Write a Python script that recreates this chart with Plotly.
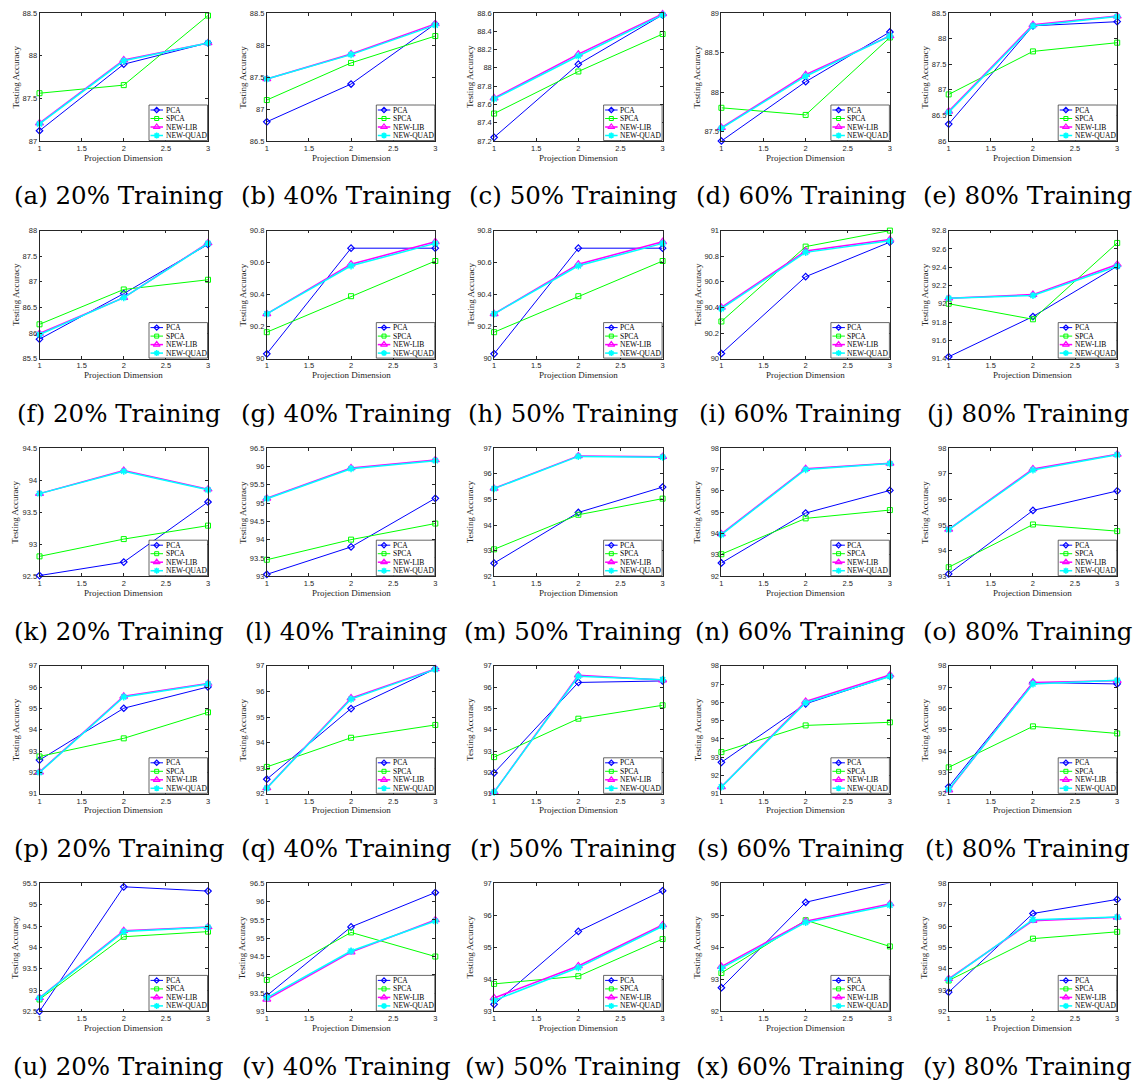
import plotly.graph_objects as go

# Page size in pixels
W, H = 1141, 1082

# ---------------------------------------------------------------- data
PANEL_TAGS = list("abcdefghijklmnopqrstuvwxy")
TRAIN_PCT = [20, 40, 50, 60, 80] * 5
DIMS = [1, 2, 3]
X_TICKS = [1, 1.5, 2, 2.5, 3]
SERIES_NAMES = ["PCA", "SPCA", "NEW-LIB", "NEW-QUAD"]

PCA = [
    [87.12, 87.90, 88.15], [86.80, 87.39, 88.33], [87.24, 88.04, 88.58],
    [87.38, 88.13, 88.76], [86.33, 88.25, 88.33],
    [85.88, 86.77, 87.73], [90.03, 90.69, 90.69], [90.03, 90.69, 90.69],
    [90.04, 90.64, 90.91], [91.42, 91.86, 92.41],
    [92.51, 92.72, 93.66], [93.05, 93.80, 95.13], [92.51, 94.49, 95.48],
    [92.62, 94.96, 96.02], [93.09, 95.57, 96.33],
    [92.58, 95.01, 96.01], [92.57, 95.33, 96.88], [91.98, 96.22, 96.29],
    [92.72, 95.92, 97.43], [92.33, 97.22, 97.15],
    [92.50, 95.42, 95.32], [93.43, 95.31, 96.25], [93.22, 95.50, 96.77],
    [92.74, 95.41, 96.02], [92.90, 96.59, 97.25],
]
SPCA = [
    [87.56, 87.655, 88.47], [87.14, 87.72, 88.14], [87.50, 87.96, 88.37],
    [87.80, 87.71, 88.69], [86.91, 87.75, 87.92],
    [86.17, 86.85, 87.04], [90.165, 90.39, 90.61], [90.165, 90.39, 90.61],
    [90.29, 90.875, 91.0], [92.0, 91.83, 92.665],
    [92.81, 93.08, 93.29], [93.45, 94.0, 94.44], [93.05, 94.40, 95.03],
    [93.03, 94.71, 95.10], [93.35, 95.02, 94.76],
    [92.75, 93.60, 94.82], [93.05, 94.19, 94.69], [92.72, 94.52, 95.15],
    [93.28, 94.74, 94.91], [93.24, 95.16, 94.83],
    [92.78, 94.25, 94.37], [93.86, 95.16, 94.50], [93.86, 94.10, 95.26],
    [93.20, 94.85, 94.03], [93.45, 95.41, 95.73],
]
NEW_LIB = [
    [87.21, 87.95, 88.15], [87.47, 87.86, 88.33], [87.67, 88.15, 88.59],
    [87.55, 88.22, 88.71], [86.58, 88.27, 88.44],
    [85.99, 86.69, 87.76], [90.28, 90.59, 90.73], [90.28, 90.59, 90.73],
    [90.40, 90.84, 90.93], [92.06, 92.10, 92.43],
    [93.79, 94.15, 93.86], [95.13, 95.96, 96.18], [95.43, 96.70, 96.67],
    [93.98, 97.04, 97.29], [94.83, 97.19, 97.76],
    [92.02, 95.57, 96.17], [92.23, 95.74, 96.88], [91.08, 96.56, 96.33],
    [91.38, 96.05, 97.50], [92.17, 97.22, 97.30],
    [92.82, 94.39, 94.48], [93.33, 94.62, 95.50], [93.42, 94.42, 95.70],
    [93.40, 94.82, 95.36], [93.53, 96.25, 96.41],
]
NEW_QUAD = [
    [87.20, 87.94, 88.15], [87.47, 87.85, 88.31], [87.66, 88.13, 88.58],
    [87.54, 88.20, 88.71], [86.56, 88.25, 88.43],
    [85.97, 86.69, 87.75], [90.28, 90.58, 90.72], [90.28, 90.58, 90.72],
    [90.39, 90.83, 90.92], [92.06, 92.09, 92.41],
    [93.79, 94.14, 93.85], [95.12, 95.94, 96.16], [95.42, 96.68, 96.65],
    [93.95, 97.00, 97.28], [94.82, 97.15, 97.74],
    [92.00, 95.54, 96.15], [92.22, 95.70, 96.86], [91.08, 96.51, 96.35],
    [91.38, 95.98, 97.42], [92.20, 97.15, 97.32],
    [92.81, 94.37, 94.47], [93.37, 94.65, 95.47], [93.34, 94.37, 95.66],
    [93.35, 94.78, 95.32], [93.49, 96.30, 96.42],
]
Y_RANGES = [
    [87, 88.5], [86.5, 88.5], [87.2, 88.6], [87.38, 89], [86, 88.5],
    [85.5, 88], [90, 90.8], [90, 90.8], [90, 91], [91.4, 92.8],
    [92.5, 94.5], [93, 96.5], [92, 97], [92, 98], [93, 98],
    [91, 97], [92, 97], [91, 97], [91, 98], [92, 98],
    [92.5, 95.5], [93, 96.5], [93, 97], [92, 96], [92, 98],
]
Y_DTICKS = [
    0.5, 0.5, 0.2, 0.5, 0.5,
    0.5, 0.2, 0.2, 0.2, 0.2,
    0.5, 0.5, 1, 1, 1,
    1, 1, 1, 1, 1,
    0.5, 0.5, 1, 1, 1,
]

SERIES_VALUES = [PCA, SPCA, NEW_LIB, NEW_QUAD]

# ---------------------------------------------------------------- styles
STYLES = [
    dict(color="#0000FF", width=1.0, symbol="diamond-open", size=5, mlw=1.2),
    dict(color="#00FF00", width=1.0, symbol="square-open", size=5, mlw=1.0),
    dict(color="#FF00FF", width=1.5, symbol="triangle-up-open", size=7, mlw=1.2),
    dict(color="#00FFFF", width=1.5, symbol="asterisk-open", size=6, mlw=1.5),
]
AX_COLOR = "#262626"
TICK_FONT = dict(family="Liberation Sans, Arial, sans-serif", size=7.5, color=AX_COLOR)
TITLE_FONT = dict(family="Liberation Serif, Times New Roman, serif", size=9, color=AX_COLOR)
LEGEND_FONT = dict(family="Liberation Serif, Times New Roman, serif", size=7.5, color="#000000")
CAPTION_FONT = dict(family="DejaVu Serif, serif", size=24.5, color="#000000")

# panel geometry (pixels)
COL_LEFT0, COL_STEP, PANEL_W = 39.5, 227.3, 168.5
ROW_TOP0, ROW_STEP, PANEL_H = 13.0, 217.6, 128.0

fig = go.Figure()
layout = dict(
    width=W, height=H, margin=dict(l=0, r=0, t=0, b=0),
    paper_bgcolor="white", plot_bgcolor="rgba(0,0,0,0)", showlegend=False,
    template="none",
)
annotations = []

legend_box_x, legend_box_y = [], []
legend_line_x = [[] for _ in SERIES_NAMES]
legend_line_y = [[] for _ in SERIES_NAMES]
legend_mark_x = [[] for _ in SERIES_NAMES]
legend_mark_y = [[] for _ in SERIES_NAMES]

for i in range(25):
    r, c = divmod(i, 5)
    left = COL_LEFT0 + COL_STEP * c
    right = left + PANEL_W
    top = ROW_TOP0 + ROW_STEP * r
    bottom = top + PANEL_H
    sfx = "" if i == 0 else str(i + 1)

    axis_common = dict(
        showgrid=False, zeroline=False, showline=True, linecolor=AX_COLOR,
        linewidth=0.7, mirror="ticks", ticks="inside", ticklen=3,
        tickwidth=0.6, tickcolor=AX_COLOR, tickfont=TICK_FONT, fixedrange=True,
    )
    layout["xaxis" + sfx] = dict(
        domain=[left / W, right / W], anchor="y" + sfx, range=[1, 3],
        tickmode="array", tickvals=X_TICKS, ticktext=[f"{v:g}" for v in X_TICKS],
        **axis_common,
    )
    layout["yaxis" + sfx] = dict(
        domain=[1 - bottom / H, 1 - top / H], anchor="x" + sfx,
        range=Y_RANGES[i], tick0=0, dtick=Y_DTICKS[i], **axis_common,
    )

    for s, name in enumerate(SERIES_NAMES):
        st = STYLES[s]
        fig.add_trace(go.Scatter(
            x=DIMS, y=SERIES_VALUES[s][i], name=name, mode="lines+markers",
            xaxis="x" + sfx, yaxis="y" + sfx, cliponaxis=False,
            line=dict(color=st["color"], width=st["width"]),
            marker=dict(symbol=st["symbol"], size=st["size"], color=st["color"],
                        line=dict(color=st["color"], width=st["mlw"])),
            hoverinfo="skip",
        ))

    # axis titles
    annotations.append(dict(
        text="Testing Accuracy", xref="paper", yref="paper",
        x=(left - 24) / W, y=1 - (top + PANEL_H / 2) / H, textangle=-90,
        showarrow=False, font=TITLE_FONT, xanchor="center", yanchor="middle",
    ))
    annotations.append(dict(
        text="Projection Dimension", xref="paper", yref="paper",
        x=(left + PANEL_W / 2) / W, y=1 - (bottom + 16.5) / H,
        showarrow=False, font=TITLE_FONT, xanchor="center", yanchor="middle",
    ))
    # sub-figure caption
    annotations.append(dict(
        text=f"({PANEL_TAGS[i]}) {TRAIN_PCT[i]}% Training",
        xref="paper", yref="paper",
        x=(left + PANEL_W / 2 - 5) / W, y=1 - (bottom + 55) / H,
        showarrow=False, font=CAPTION_FONT, xanchor="center", yanchor="middle",
    ))

    # inset legend in the lower-right corner
    bx0, bx1 = right - 59, right - 0.5
    by0, by1 = bottom - 36, bottom - 0.5
    legend_box_x += [bx0, bx1, bx1, bx0, bx0, None]
    legend_box_y += [by0, by0, by1, by1, by0, None]
    for s, name in enumerate(SERIES_NAMES):
        ry = by0 + 5 + 8.5 * s
        legend_line_x[s] += [bx0 + 1.5, bx0 + 14, None]
        legend_line_y[s] += [ry, ry, None]
        legend_mark_x[s].append(bx0 + 7.7)
        legend_mark_y[s].append(ry)
        annotations.append(dict(
            text=name, xref="x26", yref="y26", x=bx0 + 14.5, y=ry,
            showarrow=False, font=LEGEND_FONT, xanchor="left", yanchor="middle",
        ))

# pixel-space overlay used for the inset legends
layout["xaxis26"] = dict(domain=[0, 1], range=[0, W], visible=False,
                         fixedrange=True, anchor="y26")
layout["yaxis26"] = dict(domain=[0, 1], range=[H, 0], visible=False,
                         fixedrange=True, anchor="x26")

fig.add_trace(go.Scatter(
    x=legend_box_x, y=legend_box_y, xaxis="x26", yaxis="y26", mode="lines",
    fill="toself", fillcolor="white", line=dict(color=AX_COLOR, width=0.7),
    hoverinfo="skip",
))
for s, name in enumerate(SERIES_NAMES):
    st = STYLES[s]
    fig.add_trace(go.Scatter(
        x=legend_line_x[s], y=legend_line_y[s], xaxis="x26", yaxis="y26",
        mode="lines", line=dict(color=st["color"], width=st["width"]),
        hoverinfo="skip",
    ))
    fig.add_trace(go.Scatter(
        x=legend_mark_x[s], y=legend_mark_y[s], xaxis="x26", yaxis="y26",
        mode="markers", cliponaxis=False,
        marker=dict(symbol=st["symbol"], size=st["size"] - 1, color=st["color"],
                    line=dict(color=st["color"], width=st["mlw"])),
        hoverinfo="skip",
    ))

layout["annotations"] = annotations
fig.update_layout(**layout)
fig.write_html("out.html")
